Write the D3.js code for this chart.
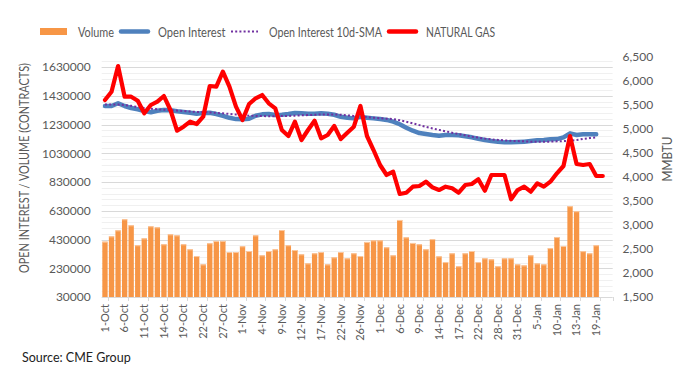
<!DOCTYPE html>
<html><head><meta charset="utf-8">
<script src="https://cdn.jsdelivr.net/npm/d3@7"></script>
<style>
body{margin:0;background:#fff;}
svg{display:block;font-family:Lato,"Open Sans",sans-serif;}
</style></head>
<body><svg id="chart" width="680" height="381"></svg>
<script>
const categories = ["1-Oct","4-Oct","5-Oct","6-Oct","7-Oct","8-Oct","11-Oct","12-Oct","13-Oct","14-Oct","15-Oct","18-Oct","19-Oct","20-Oct","21-Oct","22-Oct","25-Oct","26-Oct","27-Oct","28-Oct","29-Oct",
"1-Nov","2-Nov","3-Nov","4-Nov","5-Nov","8-Nov","9-Nov","10-Nov","11-Nov","12-Nov","15-Nov","16-Nov","17-Nov","18-Nov","19-Nov","22-Nov","23-Nov","24-Nov","26-Nov","29-Nov","30-Nov",
"1-Dec","2-Dec","3-Dec","6-Dec","7-Dec","8-Dec","9-Dec","10-Dec","13-Dec","14-Dec","15-Dec","16-Dec","17-Dec","20-Dec","21-Dec","22-Dec","23-Dec","27-Dec","28-Dec","29-Dec","30-Dec","31-Dec",
"3-Jan","4-Jan","5-Jan","6-Jan","7-Jan","10-Jan","11-Jan","12-Jan","13-Jan","14-Jan","18-Jan","19-Jan","20-Jan","21-Jan"];

const volume = [415000,452000,494000,571000,529000,390000,438000,522000,515000,397000,466000,459000,397000,362000,315000,257000,404000,420000,420000,343000,343000,383000,350000,459000,320000,350000,362000,496000,390000,357000,327000,264000,334000,343000,257000,306000,343000,299000,334000,315000,413000,424000,424000,376000,320000,566000,445000,406000,397000,362000,433000,313000,273000,334000,244000,334000,350000,273000,299000,292000,244000,299000,299000,257000,250000,320000,264000,257000,370000,447000,385000,662000,627000,349000,334000,390000];

const openInterest = [1359000,1359000,1378000,1359000,1345000,1336000,1324000,1315000,1326000,1331000,1329000,1322000,1317000,1312000,1305000,1310000,1312000,1303000,1291000,1277000,1268000,1266000,1271000,1291000,1301000,1303000,1296000,1298000,1303000,1310000,1308000,1305000,1305000,1308000,1305000,1298000,1284000,1278000,1273000,1284000,1278000,1273000,1268000,1262000,1250000,1232000,1208000,1187000,1171000,1164000,1157000,1152000,1157000,1157000,1155000,1148000,1141000,1131000,1122000,1115000,1111000,1106000,1106000,1108000,1111000,1115000,1120000,1122000,1127000,1129000,1141000,1169000,1157000,1162000,1162000,1162000];

const openInterestSMA = [1370000,1370000,1369000,1366000,1360000,1352000,1345000,1340000,1336000,1333000,1330000,1327000,1324000,1321000,1318000,1316000,1314000,1311000,1308000,1304000,1300000,1296000,1292000,1290000,1289000,1288000,1288000,1289000,1290000,1292000,1294000,1296000,1298000,1300000,1300000,1300000,1298000,1294000,1290000,1286000,1282000,1278000,1274000,1271000,1268000,1260000,1250000,1238000,1226000,1214000,1203000,1193000,1183000,1173000,1164000,1155000,1146000,1139000,1132000,1127000,1123000,1120000,1117000,1115000,1113000,1111000,1110000,1110000,1111000,1113000,1115000,1117000,1122000,1130000,1136000,1141000];

const naturalGas = [5604,5777,6312,5673,5673,5590,5327,5500,5569,5687,5396,4965,5048,5152,5104,5256,5896,5881,6194,5881,5465,5187,5521,5640,5708,5535,5431,4979,4854,5152,4771,4979,5173,4806,4875,5062,4790,4923,5048,5479,4854,4562,4250,4042,4110,3646,3673,3798,3812,3902,3785,3729,3798,3764,3673,3833,3854,3952,3715,4042,4042,4042,3535,3729,3798,3694,3868,3798,3902,4077,4229,4854,4271,4250,4271,4021,4021];

const leftTicks = [30000,230000,430000,630000,830000,1030000,1230000,1430000,1630000];
const rightTicks = [1500,2000,2500,3000,3500,4000,4500,5000,5500,6000,6500];
const legendNames = ["Volume","Open Interest","Open Interest 10d-SMA","NATURAL GAS"];

const svg = d3.select("#chart");
const plot = {left:101.7, right:612.6, top:57, bottom:297};

const x = d3.scaleBand().domain(categories).range([plot.left, plot.right]).paddingInner(0.19).paddingOuter(0.095);
const yL = d3.scaleLinear().domain([30000,1700000]).range([plot.bottom, plot.top]);
const yR = d3.scaleLinear().domain([1500,6500]).range([plot.bottom, plot.top]);
const cx = d => x(d) + x.bandwidth()/2;

// gridlines: minor and major
const minor = d3.range(30000, 1700001, 40000);
svg.append("g").selectAll("line").data(minor).join("line")
  .attr("x1", plot.left).attr("x2", plot.right)
  .attr("y1", d => Math.round(yL(d))+0.5).attr("y2", d => Math.round(yL(d))+0.5)
  .attr("stroke", "#f0f0f0").attr("stroke-width", 1);
svg.append("g").selectAll("line").data(leftTicks.slice(1)).join("line")
  .attr("x1", plot.left).attr("x2", plot.right)
  .attr("y1", d => Math.round(yL(d))+0.5).attr("y2", d => Math.round(yL(d))+0.5)
  .attr("stroke", "#d9d9d9").attr("stroke-width", 1);

// bars
svg.append("g").selectAll("rect").data(volume).join("rect")
  .attr("x", (d,i) => x(categories[i]))
  .attr("width", x.bandwidth())
  .attr("y", d => yL(d))
  .attr("height", d => yL(30000) - yL(d))
  .attr("fill", "#F79646");
svg.append("g").selectAll("line").data(volume).join("line")
  .attr("x1", (d,i) => x(categories[i])).attr("x2", (d,i) => x(categories[i]) + x.bandwidth())
  .attr("y1", d => yL(d)+0.5).attr("y2", d => yL(d)+0.5)
  .attr("stroke", "#fbc9a0").attr("stroke-width", 1);

// x axis line
svg.append("line").attr("x1", plot.left).attr("x2", plot.right)
  .attr("y1", plot.bottom+0.5).attr("y2", plot.bottom+0.5).attr("stroke", "#d9d9d9");
const tickIdx = d3.range(0, categories.length, 3);
svg.append("g").selectAll("line").data(tickIdx.map(i => i+1).concat([categories.length])).join("line")
  .attr("x1", i => Math.round(plot.left + x.step()*i)+0.5).attr("x2", i => Math.round(plot.left + x.step()*i)+0.5)
  .attr("y1", plot.bottom).attr("y2", plot.bottom+4).attr("stroke", "#d9d9d9");

// lines
const lineL = d3.line().x((d,i) => cx(categories[i])).y(d => yL(d));
const lineR = d3.line().x((d,i) => cx(categories[i])).y(d => yR(d));
svg.append("path").datum(openInterest).attr("d", lineL)
  .attr("fill","none").attr("stroke","#4F81BD").attr("stroke-width",4.5)
  .attr("stroke-linejoin","round").attr("stroke-linecap","round");
svg.append("path").datum(openInterestSMA).attr("d", lineL)
  .attr("fill","none").attr("stroke","#7030A0").attr("stroke-width",2)
  .attr("stroke-dasharray","2,2.2");
svg.append("path").datum(naturalGas).attr("d", lineR)
  .attr("fill","none").attr("stroke","#FF0000").attr("stroke-width",4.2)
  .attr("stroke-linejoin","round").attr("stroke-linecap","round");

// left axis
const axL = svg.append("g").attr("transform", `translate(${plot.left - 11},0)`)
  .call(d3.axisLeft(yL).tickValues(leftTicks).tickSize(0).tickPadding(0).tickFormat(d3.format("d")));
axL.select(".domain").remove();
axL.selectAll("text").attr("fill","#595959").style("font-size","12px").style("font-family","Lato");

// right axis
const axR = svg.append("g").attr("transform", `translate(${plot.right + 10},0)`)
  .call(d3.axisRight(yR).tickValues(rightTicks).tickSize(0).tickPadding(0).tickFormat(d3.format(",")));
axR.select(".domain").remove();
axR.selectAll("text").attr("fill","#595959").style("font-size","12px").style("font-family","Lato");

// bottom axis labels
const axB = svg.append("g").attr("transform", `translate(0,${plot.bottom})`)
  .call(d3.axisBottom(x).tickValues(tickIdx.map(i => categories[i])).tickSize(0).tickPadding(0));
axB.select(".domain").remove();
axB.selectAll("text")
  .attr("transform","rotate(-90)")
  .attr("x", -7).attr("y", 0).attr("dy","0.35em")
  .attr("text-anchor","end")
  .attr("fill","#595959").style("font-size","11px").style("font-family","Lato");

// axis titles
svg.append("text").attr("transform","translate(24,168) rotate(-90)")
  .attr("text-anchor","middle").attr("dominant-baseline","central")
  .attr("textLength", 210).attr("lengthAdjust","spacingAndGlyphs")
  .attr("fill","#595959").style("font-size","12.5px").text("OPEN INTEREST / VOLUME (CONTRACTS)");
svg.append("text").attr("transform","translate(667,159) rotate(-90)")
  .attr("text-anchor","middle").attr("dominant-baseline","central")
  .attr("textLength", 45).attr("lengthAdjust","spacingAndGlyphs")
  .attr("fill","#595959").style("font-size","12.5px").text("MMBTU");

// legend
const lg = svg.append("g");
const lgSw = [40, 121, 231, 389];
const lgTx = [78, 158, 269, 426];
const lgW = [36, 67.5, 113, 69];
const ly = 31.5;
lg.append("rect").attr("x", lgSw[0]).attr("y", ly-3.5).attr("width", 27).attr("height", 7).attr("fill", "#F79646");
lg.append("line").attr("x1", lgSw[1]).attr("x2", lgSw[1]+27).attr("y1", ly).attr("y2", ly)
  .attr("stroke","#4F81BD").attr("stroke-width",4.5).attr("stroke-linecap","round");
lg.append("line").attr("x1", lgSw[2]).attr("x2", lgSw[2]+27).attr("y1", ly).attr("y2", ly)
  .attr("stroke","#7030A0").attr("stroke-width",2).attr("stroke-dasharray","2,2.2");
lg.append("line").attr("x1", lgSw[3]).attr("x2", lgSw[3]+27).attr("y1", ly).attr("y2", ly)
  .attr("stroke","#FF0000").attr("stroke-width",4.5).attr("stroke-linecap","round");
lg.selectAll("text").data(legendNames).join("text")
  .attr("x", (d,i) => lgTx[i]).attr("y", ly).attr("dominant-baseline","central")
  .attr("textLength", (d,i) => lgW[i]).attr("lengthAdjust","spacingAndGlyphs")
  .attr("fill","#595959").style("font-size","13px").text(d => d);

// source
svg.append("text").attr("x", 22).attr("y", 357).attr("dominant-baseline","central")
  .attr("fill","#222").style("font-size","12.5px").text("Source: CME Group");
</script>
</body></html>
